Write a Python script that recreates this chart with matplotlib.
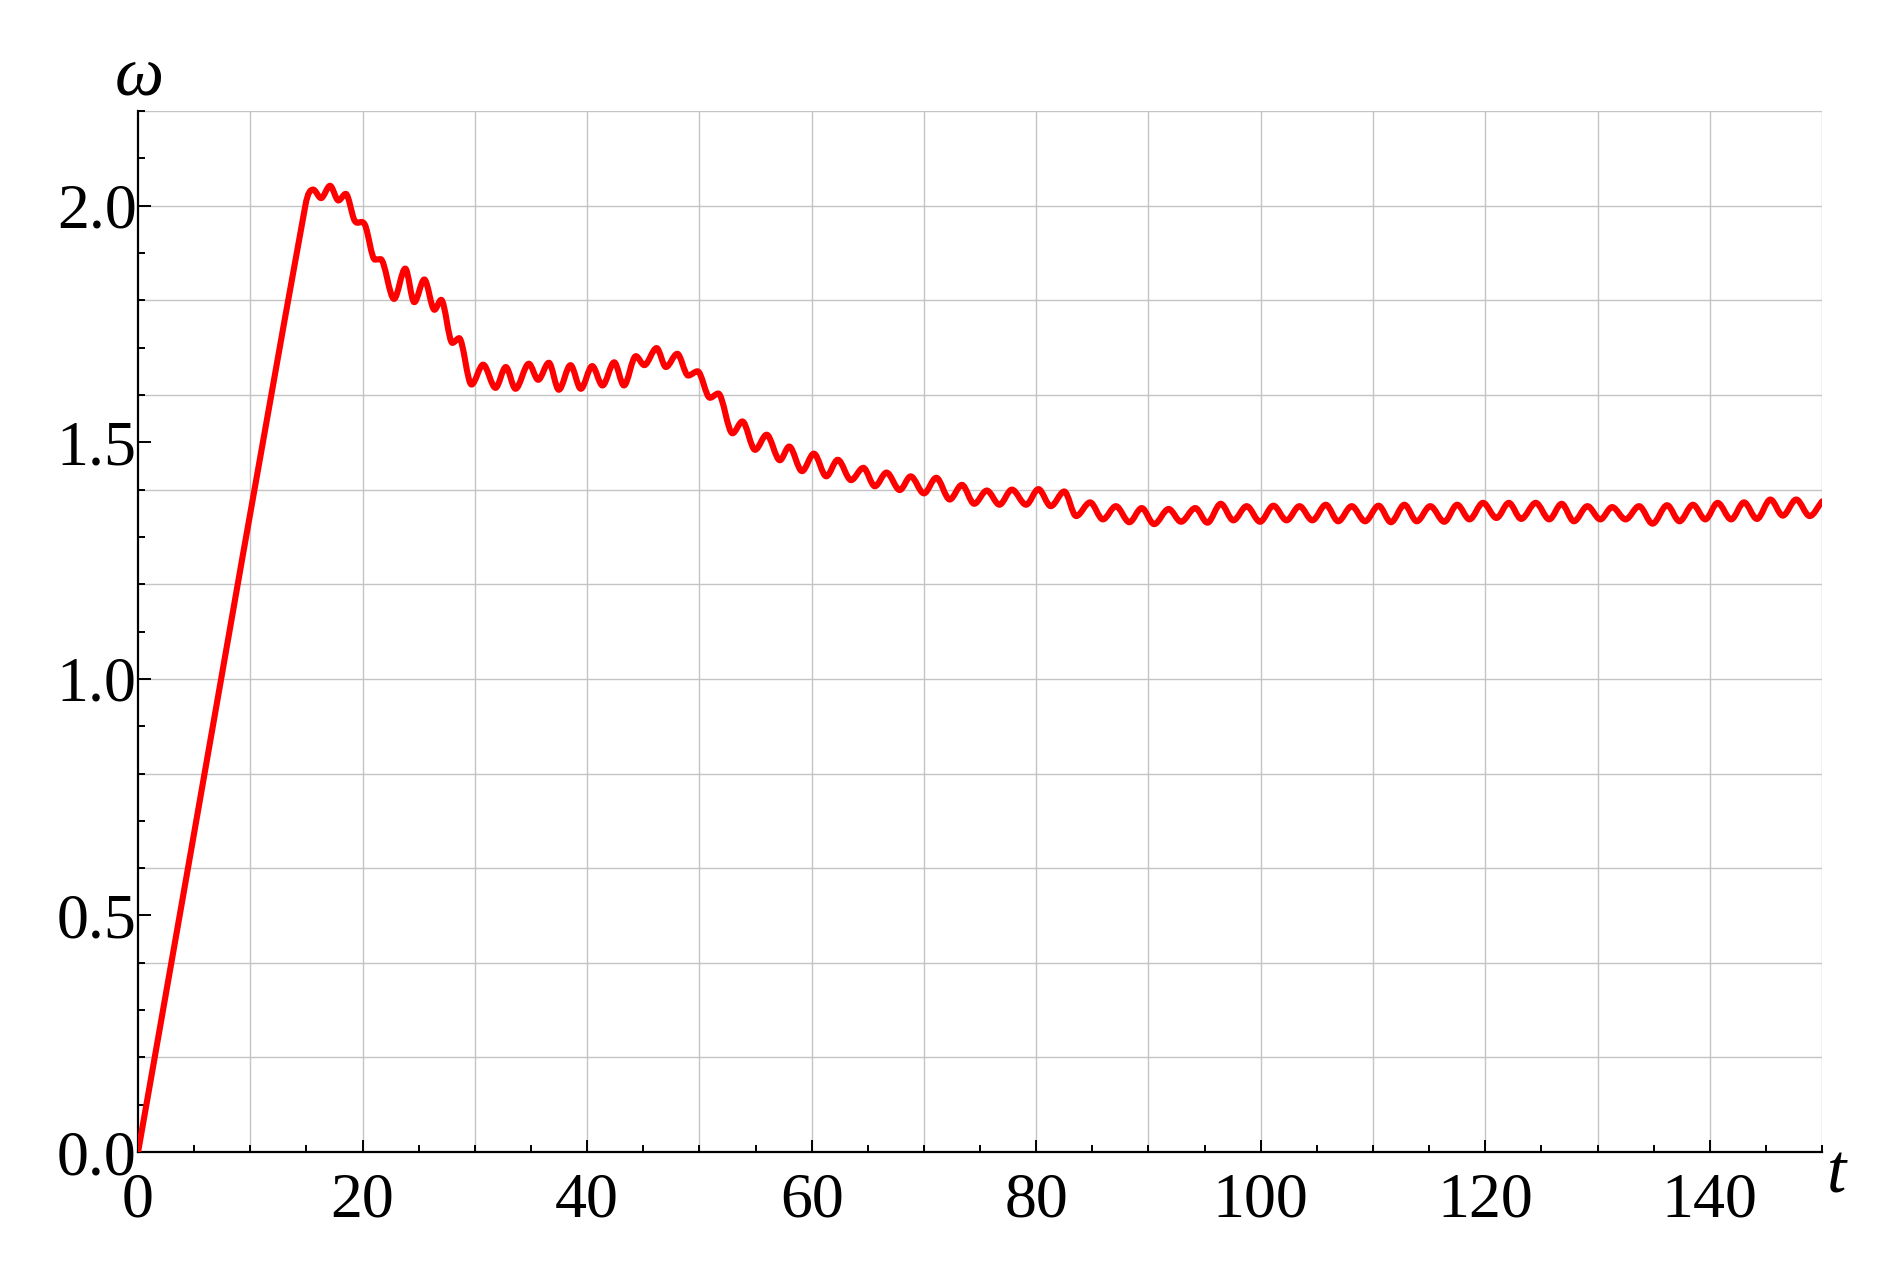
import numpy as np
import matplotlib
matplotlib.use('Agg')
import matplotlib.pyplot as plt
from matplotlib.path import Path
from matplotlib.patches import PathPatch
from matplotlib.ticker import MultipleLocator

# extrema / turning points
t_pts = [0, 14.9, 15.6, 16.3, 17.1, 17.85, 18.5, 19.3, 20.2, 21.1,
         21.6, 22.8, 23.8, 24.6, 25.5, 26.4, 27.0, 28.0, 28.6, 29.7,
         30.74, 31.84, 32.76, 33.62, 34.81, 35.64, 36.59, 37.48, 38.52, 39.44,
         40.45, 41.37, 42.41, 43.28, 44.34, 45.09, 46.19, 47.02, 48.03, 49.0,
         49.84, 50.94, 51.68,
         52.95, 53.83, 54.96, 55.99, 57.17, 58.0, 59.14, 60.2, 61.3, 62.33,
         63.51, 64.6, 65.63, 66.67, 67.85, 68.82, 70.0, 71.1, 72.3,
         73.38, 74.48, 75.6, 76.73, 77.83, 79.1, 80.2, 81.3, 82.5, 83.56,
         84.8, 85.94, 87.1, 88.3, 89.4, 90.5, 91.8, 92.9, 94.17,
         95.25, 96.44, 97.56, 98.75, 99.94, 101.13, 102.3, 103.45, 104.6, 105.8,
         106.9, 108.1, 109.3, 110.5, 111.6, 112.8, 113.9, 115.1, 116.35,
         117.5, 118.6, 119.8, 121.0, 122.1, 123.2, 124.5, 125.7, 126.8, 127.9,
         129.1, 130.25, 131.3, 132.5, 133.7, 134.9, 136.2, 137.3, 138.5, 139.6,
         140.7, 141.9, 143.05, 144.2, 145.4, 146.5, 147.7, 148.9, 150]

w_pts = [0, 2.0, 2.034, 2.016, 2.042, 2.011, 2.025, 1.968, 1.960, 1.886,
         1.887, 1.803, 1.867, 1.796, 1.844, 1.780, 1.801, 1.710, 1.720, 1.622,
         1.664, 1.615, 1.659, 1.613, 1.666, 1.632, 1.668, 1.611, 1.663, 1.613,
         1.661, 1.620, 1.669, 1.620, 1.682, 1.663, 1.699, 1.659, 1.687, 1.641,
         1.650, 1.594, 1.603,
         1.519, 1.544, 1.484, 1.516, 1.462, 1.491, 1.439, 1.476, 1.428, 1.463,
         1.420, 1.446, 1.407, 1.436, 1.399, 1.428, 1.392, 1.425, 1.379,
         1.410, 1.370, 1.398, 1.368, 1.400, 1.368, 1.401, 1.365, 1.396, 1.344,
         1.373, 1.337, 1.365, 1.331, 1.361, 1.327, 1.359, 1.332, 1.361,
         1.330, 1.370, 1.335, 1.365, 1.332, 1.366, 1.335, 1.365, 1.335, 1.368,
         1.333, 1.365, 1.333, 1.366, 1.331, 1.368, 1.333, 1.365, 1.332,
         1.368, 1.337, 1.372, 1.340, 1.372, 1.338, 1.372, 1.337, 1.370, 1.333,
         1.365, 1.337, 1.363, 1.337, 1.365, 1.328, 1.367, 1.333, 1.368, 1.337,
         1.372, 1.337, 1.373, 1.338, 1.379, 1.345, 1.379, 1.344, 1.375]

x_ticks = [0, 20, 40, 60, 80, 100, 120, 140]
y_ticks = [0.0, 0.5, 1.0, 1.5, 2.0]


def smooth_path(x, y):
    """piecewise cubic through the read points, drawn as bezier segments"""
    x = np.asarray(x, float)
    y = np.asarray(y, float)
    n = len(x)
    m = np.zeros(n)
    m[0] = (y[1] - y[0]) / (x[1] - x[0])
    m[-1] = (y[-1] - y[-2]) / (x[-1] - x[-2])
    for i in range(1, n - 1):
        if (y[i] - y[i - 1]) * (y[i + 1] - y[i]) <= 0:
            m[i] = 0.0  # turning point -> flat tangent
        else:
            m[i] = (y[i + 1] - y[i - 1]) / (x[i + 1] - x[i - 1])
    verts = [(x[0], y[0])]
    codes = [Path.MOVETO]
    for i in range(n - 1):
        h = x[i + 1] - x[i]
        verts += [(x[i] + h / 3, y[i] + m[i] * h / 3),
                  (x[i + 1] - h / 3, y[i + 1] - m[i + 1] * h / 3),
                  (x[i + 1], y[i + 1])]
        codes += [Path.CURVE4] * 3
    return Path(verts, codes)


plt.rcParams['font.family'] = ['Liberation Serif', 'DejaVu Serif']

fig = plt.figure(figsize=(18.86, 12.66), dpi=100)
ax = fig.add_axes([0.0732, 0.0900, 0.8929, 0.8223])

# grid
for gx in range(10, 151, 10):
    ax.axvline(gx, color='#c4c4c4', lw=1.0, zorder=0)
for gy in np.arange(0.2, 2.21, 0.2):
    ax.axhline(gy, color='#c4c4c4', lw=1.0, zorder=0)

patch = PathPatch(smooth_path(t_pts, w_pts), facecolor='none', edgecolor='#ff0000',
                  lw=4.4, capstyle='round', joinstyle='round', zorder=3)
ax.add_patch(patch)

ax.set_xlim(0, 150)
ax.set_ylim(0, 2.2)

ax.set_xticks(x_ticks)
ax.set_xticklabels([str(v) for v in x_ticks])
ax.xaxis.set_minor_locator(MultipleLocator(5))
ax.set_yticks(y_ticks)
ax.set_yticklabels([f'{v:.1f}' for v in y_ticks])
ax.yaxis.set_minor_locator(MultipleLocator(0.1))

ax.tick_params(which='both', direction='in', top=False, right=False,
               width=1.4, color='black')
ax.tick_params(which='major', length=9, labelsize=46)
ax.tick_params(which='minor', length=5)
ax.tick_params(axis='y', which='major', pad=1)
ax.tick_params(axis='x', which='major', pad=15)

for side in ['top', 'right']:
    ax.spines[side].set_visible(False)
for side in ['left', 'bottom']:
    ax.spines[side].set_linewidth(1.6)

fig.text(0.0737, 0.925, 'ω', fontsize=50, fontstyle='italic',
         ha='center', va='baseline')
fig.text(0.974, 0.0577, 't', fontsize=50, fontstyle='italic',
         ha='center', va='baseline')

fig.savefig('out.png', dpi=100)
